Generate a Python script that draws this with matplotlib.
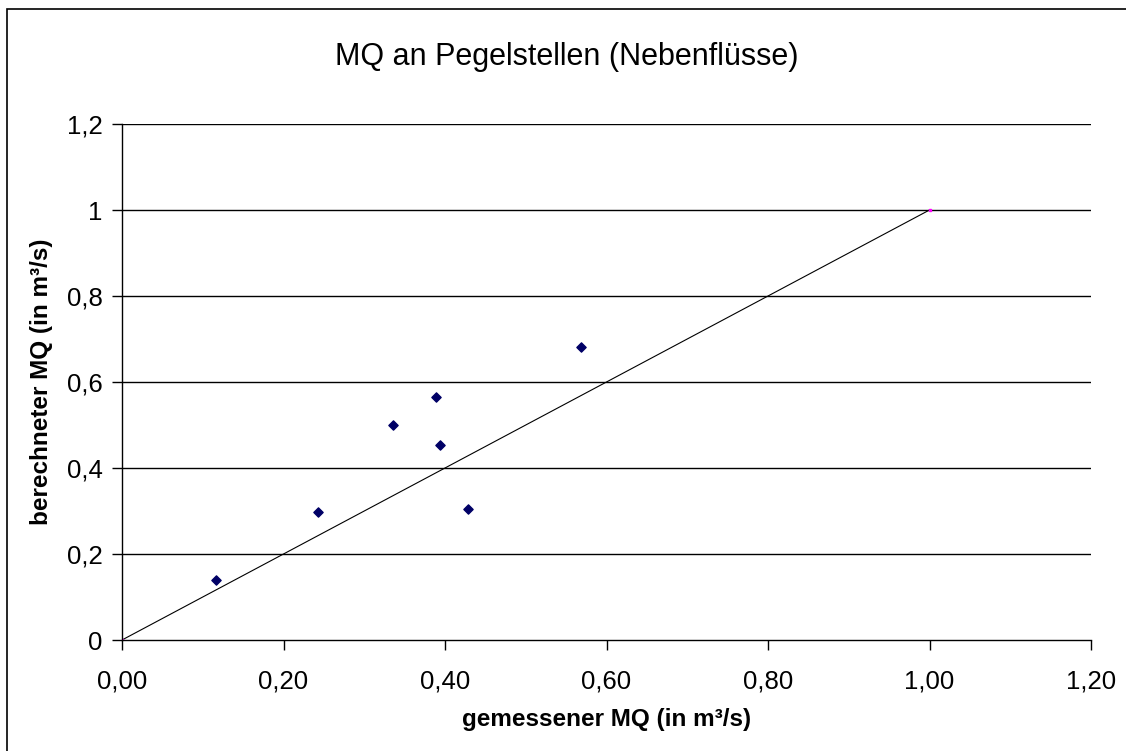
import matplotlib
matplotlib.use('Agg')
import matplotlib.pyplot as plt
from matplotlib.ticker import FuncFormatter
from matplotlib.patches import Rectangle

plt.rcParams['font.family'] = ['Liberation Sans', 'DejaVu Sans']

# measured vs. computed mean discharge (m3/s)
gemessen = [0.116, 0.243, 0.335, 0.389, 0.394, 0.429, 0.569]
berechnet = [0.140, 0.297, 0.501, 0.566, 0.453, 0.304, 0.682]

# reference line y = x
diag_x = [0.0, 1.0]
diag_y = [0.0, 1.0]

x_ticks = [0.0, 0.2, 0.4, 0.6, 0.8, 1.0, 1.2]
y_ticks = [0.0, 0.2, 0.4, 0.6, 0.8, 1.0, 1.2]

fig = plt.figure(figsize=(11.26, 7.51), dpi=100)
ax = fig.add_axes([122 / 1126, 1 - 640 / 751, (1091 - 122) / 1126, (640 - 124) / 751])

# outer chart border (only top/left visible in the reference)
fig.patches.append(Rectangle((7 / 1126, -0.1), 1.2, 1 - 9 / 751 + 0.1,
                             transform=fig.transFigure, fill=False,
                             edgecolor='black', linewidth=1.2))

# horizontal gridlines
for yv in y_ticks[1:]:
    ax.axhline(yv, color='black', linewidth=1.0, zorder=1)

ax.plot(diag_x, diag_y, color='black', linewidth=0.8, marker='s',
        markersize=2, markerfacecolor='#ff00ff', markeredgecolor='#ff00ff', zorder=2)
ax.scatter(gemessen, berechnet, marker='D', s=22, color='#000066', zorder=3)

ax.set_xlim(0, 1.2)
ax.set_ylim(0, 1.2)
ax.set_xticks(x_ticks)
ax.set_yticks(y_ticks)


def fmt_x(v, pos):
    return ('%.2f' % v).replace('.', ',')


def fmt_y(v, pos):
    s = ('%.1f' % v).replace('.', ',')
    if s.endswith(',0'):
        s = s[:-2]
    return s


ax.xaxis.set_major_formatter(FuncFormatter(fmt_x))
ax.yaxis.set_major_formatter(FuncFormatter(fmt_y))

for side in ['top', 'right']:
    ax.spines[side].set_visible(False)
for side in ['left', 'bottom']:
    ax.spines[side].set_linewidth(1.0)
    ax.spines[side].set_color('black')

ax.tick_params(axis='both', direction='out', length=7, width=1.0,
               labelsize=18.5, colors='black')
ax.tick_params(axis='x', pad=14.5)
ax.tick_params(axis='y', pad=7)

ax.set_xlabel('gemessener MQ (in m³/s)', fontsize=17.5, fontweight='bold', labelpad=10)
ax.set_ylabel('berechneter MQ (in m³/s)', fontsize=17.5, fontweight='bold', labelpad=10)

fig.text(0.503, 1 - 57 / 751, 'MQ an Pegelstellen (Nebenflüsse)',
         ha='center', va='center', fontsize=22)

fig.savefig('out.png', dpi=100, facecolor='white')
